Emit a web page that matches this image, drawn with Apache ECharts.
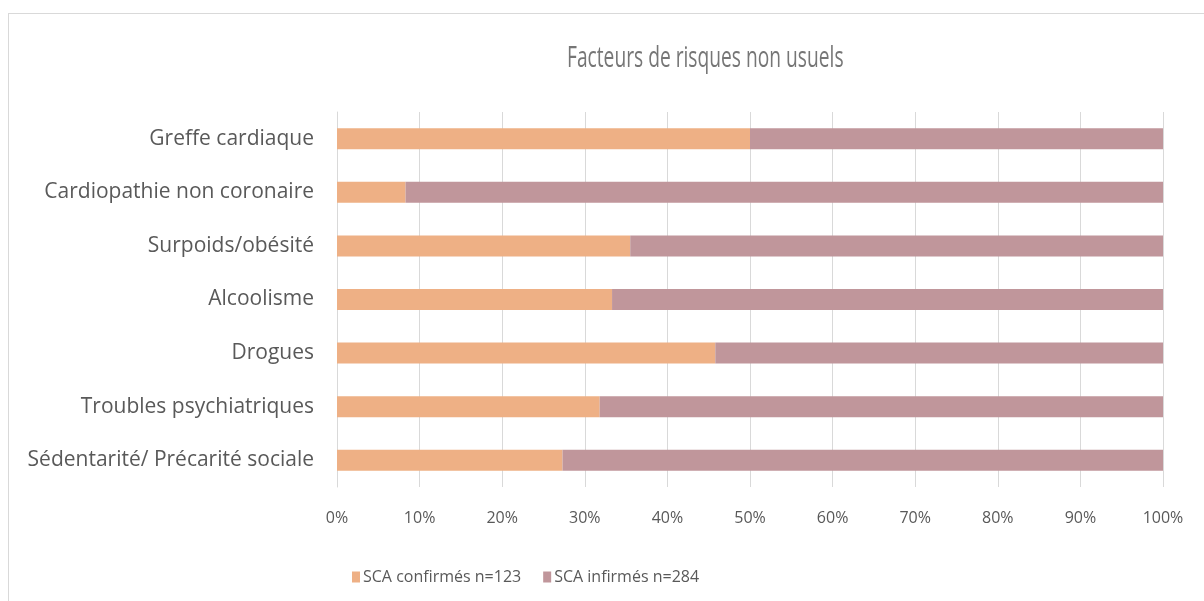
<!DOCTYPE html>
<html>
<head>
<meta charset="utf-8">
<script src="https://cdn.jsdelivr.net/npm/echarts@6/dist/echarts.min.js"></script>
<style>
  html, body { margin: 0; padding: 0; background: #fff; overflow: hidden; }
  #frame {
    position: absolute; left: 8px; top: 13px;
    width: 1220px; height: 620px;
    border: 1px solid #d9d9d9;
  }
  #chart { position: absolute; left: 0; top: 0; width: 1204px; height: 601px; }
</style>
</head>
<body>
<div id="frame"></div>
<div id="chart"></div>
<script>
// catégories (du haut vers le bas)
var categories = [
  "Greffe cardiaque",
  "Cardiopathie non coronaire",
  "Surpoids/obésité",
  "Alcoolisme",
  "Drogues",
  "Troubles psychiatriques",
  "Sédentarité/ Précarité sociale"
];
// pourcentages
var confirmes = [50.0, 8.3, 35.5, 33.3, 45.8, 31.8, 27.3];
var infirmes = [50.0, 91.7, 64.5, 66.7, 54.2, 68.2, 72.7];
var seriesNames = ["SCA confirmés n=123", "SCA infirmés n=284"];
var titre = "Facteurs de risques non usuels";

var chart = echarts.init(document.getElementById("chart"));
var font = "'Open Sans', 'DejaVu Sans', sans-serif";

chart.setOption({
  animation: false,
  // titre un peu condensé comme dans l'original
  graphic: [
    {
      type: "text",
      x: 567,
      y: 58,
      scaleX: 0.64,
      style: {
        text: titre,
        fontFamily: font,
        fontSize: 30,
        fill: "#767676",
        textVerticalAlign: "middle"
      }
    }
  ],
  grid: { left: 337, right: 41, top: 112, bottom: 114 },
  legend: {
    left: 347,
    top: 564,
    itemWidth: 8,
    itemHeight: 11,
    itemGap: 22,
    icon: "rect",
    textStyle: { fontFamily: font, fontSize: 16, color: "#595959", padding: [0, 0, 0, -2] },
    data: seriesNames
  },
  xAxis: {
    type: "value",
    min: 0,
    max: 100,
    interval: 10,
    axisLine: { show: false },
    axisTick: { show: false },
    splitLine: { lineStyle: { color: "#d9d9d9", width: 1 } },
    axisLabel: {
      margin: 23,
      fontFamily: font,
      fontSize: 16,
      color: "#595959",
      formatter: function (v) { return v + "%"; }
    }
  },
  yAxis: {
    type: "category",
    inverse: true,
    data: categories,
    axisLine: { show: true, lineStyle: { color: "#d9d9d9", width: 1 } },
    axisTick: { show: false },
    axisLabel: { margin: 23, fontFamily: font, fontSize: 21, color: "#595959" }
  },
  series: [
    {
      name: seriesNames[0],
      type: "bar",
      stack: "total",
      barWidth: 21,
      data: confirmes,
      itemStyle: { color: "#EEB085" }
    },
    {
      name: seriesNames[1],
      type: "bar",
      stack: "total",
      barWidth: 21,
      data: infirmes,
      itemStyle: { color: "#C0969B" }
    }
  ]
});
</script>
</body>
</html>
